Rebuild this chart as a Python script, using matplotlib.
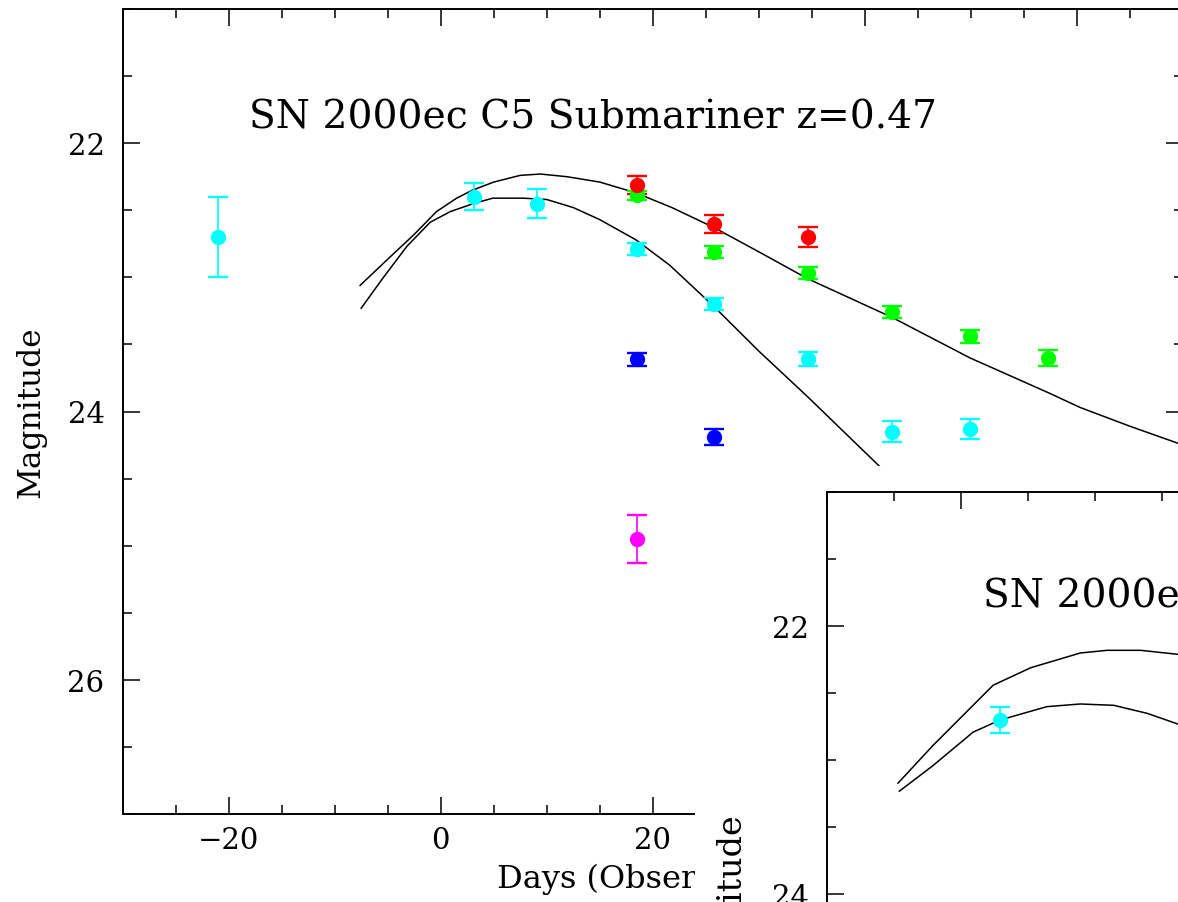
import matplotlib
matplotlib.use("Agg")
import matplotlib.pyplot as plt
from matplotlib.ticker import MultipleLocator

# ---- SN 2000ec (main panel) photometry, days in observer frame ----
red_day = [18.5, 25.8, 34.6]
red_mag = [22.31, 22.60, 22.70]
red_err = [0.066, 0.067, 0.077]

green_day = [18.5, 25.8, 34.6, 42.6, 49.9, 57.3]
green_mag = [22.39, 22.81, 22.97, 23.26, 23.44, 23.60]
green_err = [0.03, 0.043, 0.046, 0.045, 0.047, 0.06]

cyan_day = [-21.0, 3.1, 9.1, 18.5, 25.8, 34.6, 42.6, 49.9]
cyan_mag = [22.70, 22.40, 22.45, 22.79, 23.20, 23.61, 24.15, 24.13]
cyan_err = [0.30, 0.10, 0.105, 0.045, 0.047, 0.054, 0.076, 0.075]

blue_day = [18.5, 25.8]
blue_mag = [23.61, 24.19]
blue_err = [0.048, 0.06]

magenta_day = [18.5]
magenta_mag = [24.95]
magenta_err = [0.18]

# template light curves
curve_a_day = [-7.6, -4.8, -2.5, -0.4, 1.5, 3.0, 5.0, 7.5, 9.4, 11.9, 15.0, 18.4, 21.8, 25.8, 30.0, 34.6, 42.6, 49.9, 57.3, 60.3, 65.0, 70.0]
curve_a_mag = [23.06, 22.85, 22.68, 22.51, 22.41, 22.35, 22.29, 22.24, 22.23, 22.25, 22.29, 22.37, 22.48, 22.63, 22.81, 23.01, 23.30, 23.60, 23.86, 23.97, 24.11, 24.25]
curve_b_day = [-7.5, -5.4, -3.2, -1.0, 0.9, 3.1, 4.9, 7.8, 10.0, 12.5, 15.0, 18.4, 21.6, 25.8, 30.0, 34.6, 41.4, 45.0]
curve_b_mag = [23.23, 23.00, 22.77, 22.59, 22.51, 22.45, 22.41, 22.41, 22.42, 22.48, 22.57, 22.72, 22.91, 23.22, 23.55, 23.89, 24.41, 24.70]

# ---- SN 2000ea (second panel, partly visible) ----
ea_day = [2.9]
ea_mag = [22.70]
ea_err = [0.10]
ea_a_day = [-4.7, -2.1, 2.4, 5.2, 8.9, 10.9, 13.4, 16.2]
ea_a_mag = [23.17, 22.89, 22.44, 22.31, 22.20, 22.18, 22.18, 22.21]
ea_b_day = [-4.6, -2.1, 0.9, 2.9, 6.4, 8.9, 11.4, 13.9, 16.2]
ea_b_mag = [23.23, 23.04, 22.79, 22.70, 22.60, 22.58, 22.59, 22.65, 22.73]

plt.rcParams['font.family'] = ['DejaVu Serif']
W, H = 1178, 903
fig = plt.figure(figsize=(W / 100, H / 100), dpi=100)

def px_axes(left, top, width, height):
    # axes from pixel box (top-left origin)
    return fig.add_axes([left / W, (H - top - height) / H, width / W, height / H])

def style(ax):
    ax.set_ylim(27, 21)
    ax.xaxis.set_major_locator(MultipleLocator(20))
    ax.xaxis.set_minor_locator(MultipleLocator(5))
    ax.yaxis.set_major_locator(MultipleLocator(2))
    ax.yaxis.set_minor_locator(MultipleLocator(0.5))
    ax.tick_params(which='both', direction='in', top=True, right=True, width=1.1, labelsize=21)
    ax.tick_params(which='major', length=12)
    ax.tick_params(which='minor', length=6.5)
    ax.tick_params(axis='x', pad=9)
    ax.tick_params(axis='y', pad=13)
    for s in ax.spines.values():
        s.set_linewidth(1.4)

def pts(ax, d, m, e, c):
    ax.errorbar(d, m, yerr=e, fmt='o', color=c, ms=10, elinewidth=1.2, capsize=7.5, capthick=1.7)

ax = px_axes(122.6, 10, 1060.4, 805)
style(ax)
ax.set_xlim(-30, 70)
ax.plot(curve_a_day, curve_a_mag, color='black', lw=1.1)
ax.plot(curve_b_day, curve_b_mag, color='black', lw=1.1)
pts(ax, cyan_day, cyan_mag, cyan_err, '#00FFFF')
pts(ax, green_day, green_mag, green_err, '#00FF00')
pts(ax, red_day, red_mag, red_err, '#FF0000')
pts(ax, blue_day, blue_mag, blue_err, '#0000FF')
pts(ax, magenta_day, magenta_mag, magenta_err, '#FF00FF')
ax.text(0.1193, 0.853, 'SN 2000ec C5 Submariner z=0.47', transform=ax.transAxes,
        fontsize=28.2, va='baseline')
ax.set_xlabel('Days (Observer Frame)', fontsize=23, ha='left', va='baseline')
ax.xaxis.set_label_coords(0.3531, -0.0907)
ax.set_ylabel('Magnitude', fontsize=22.5)
ax.yaxis.set_label_coords(-0.0713, 0.5)

# second plot pasted over the lower right corner
bg = px_axes(695, 467, 600, 900)
bg.axis('off')
bg.add_patch(plt.Rectangle((0, 0), 1, 1, transform=bg.transAxes, color='white', zorder=0))

ax2 = px_axes(827, 493, 1072, 805)
style(ax2)
ax2.set_xlim(-10, 70)
ax2.plot(ea_a_day, ea_a_mag, color='black', lw=1.1)
ax2.plot(ea_b_day, ea_b_mag, color='black', lw=1.1)
pts(ax2, ea_day, ea_mag, ea_err, '#00FFFF')
ax2.text(0.1452, 0.858, 'SN 2000ea', transform=ax2.transAxes, fontsize=28.2, va='baseline')
ax2.set_ylabel('Magnitude', fontsize=24)
ax2.yaxis.set_label_coords(-0.0746, 0.488)

fig.savefig('out.png', dpi=100)
